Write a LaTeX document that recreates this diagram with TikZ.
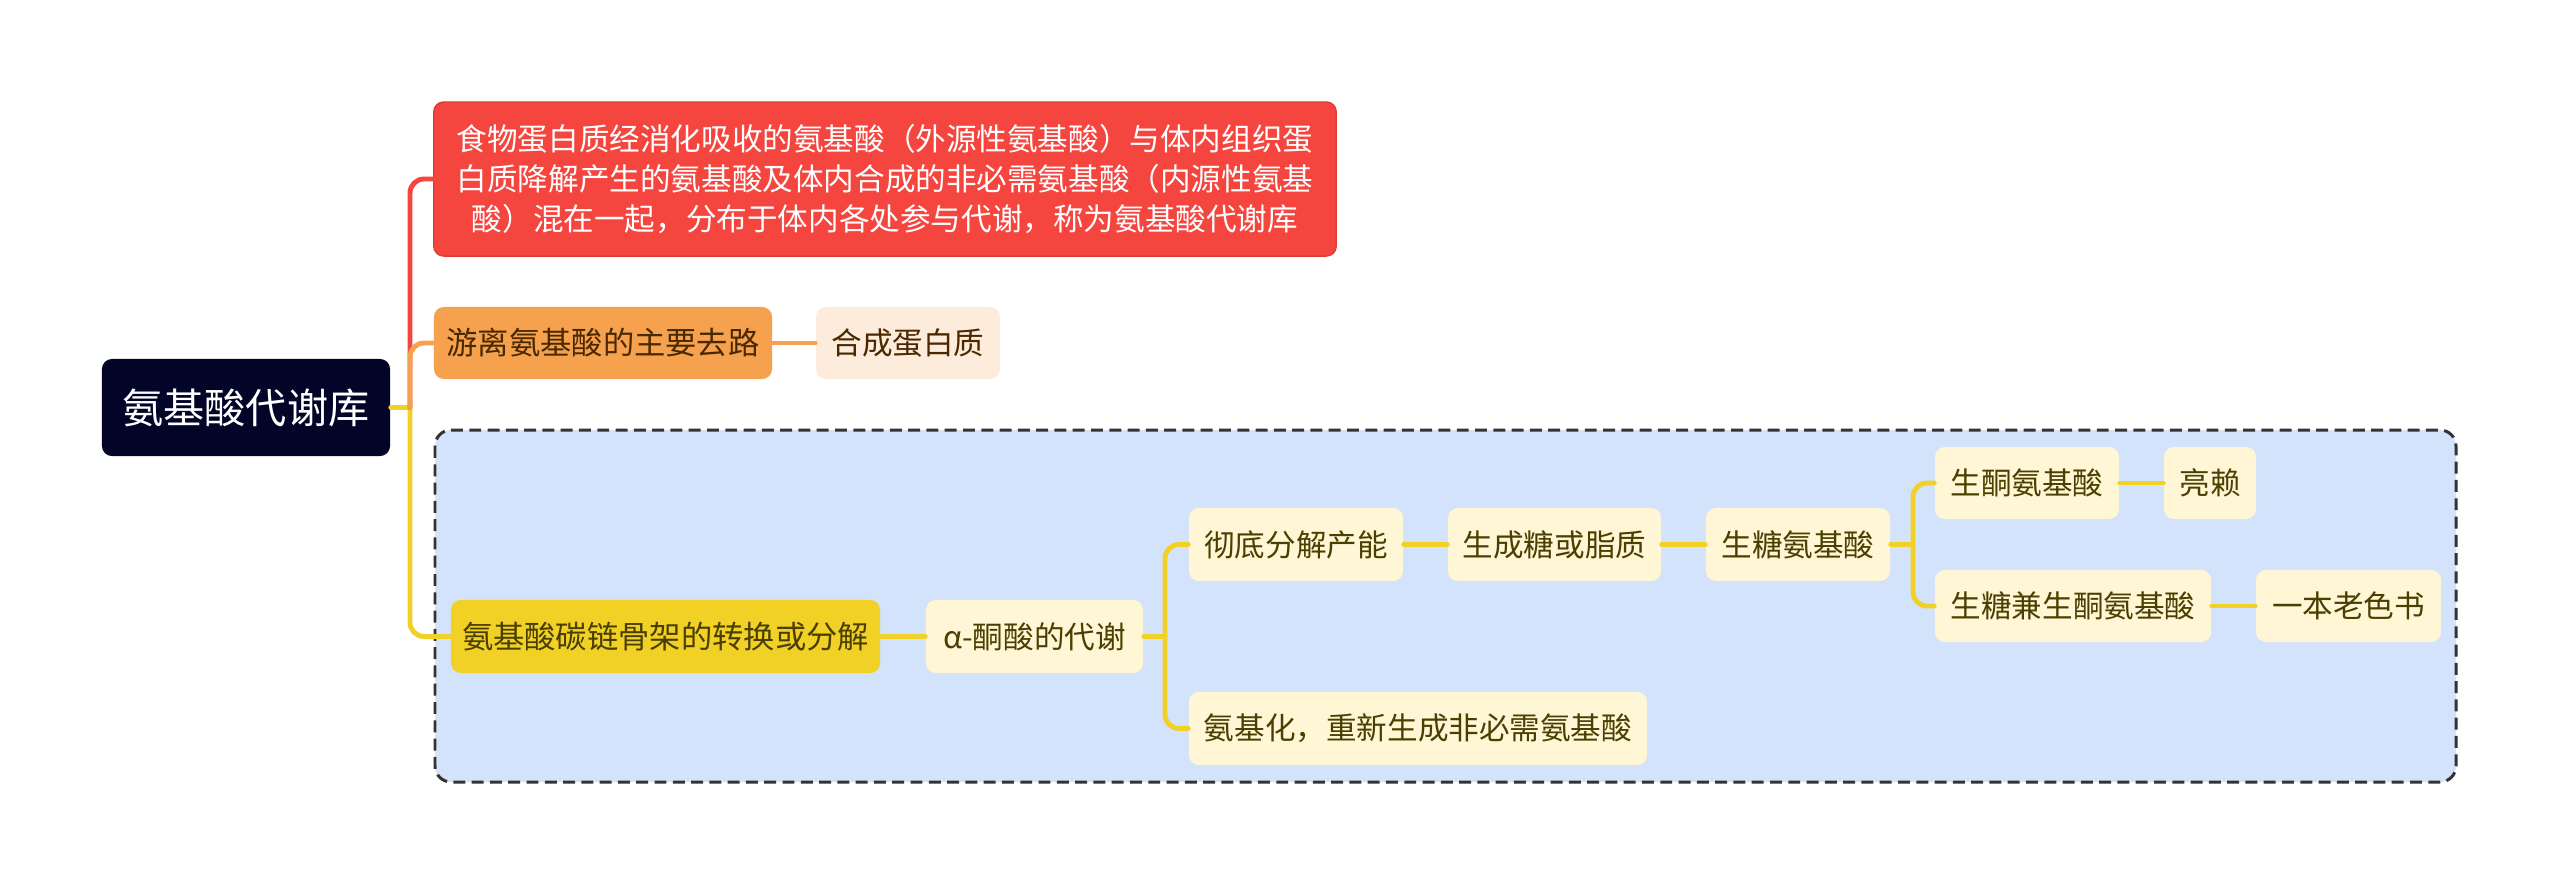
\documentclass[tikz,border=0pt]{standalone}
\usepackage{fontspec}
\setmainfont{Noto Sans CJK SC}
\definecolor{rootc}{HTML}{020428}
\definecolor{redc}{HTML}{F5453F}
\definecolor{redb}{HTML}{DE3B35}
\definecolor{orangec}{HTML}{F5A14E}
\definecolor{lorangec}{HTML}{FDEBDB}
\definecolor{yellowc}{HTML}{F1D126}
\definecolor{lyellowc}{HTML}{FEF6D5}
\definecolor{bluec}{HTML}{D4E3FC}
\definecolor{browntext}{HTML}{4A2800}
\definecolor{olivetext}{HTML}{4A3F00}
\begin{document}
\begin{tikzpicture}[x=0.01cm,y=-0.01cm,
  box/.style={rounded corners=0.1cm, inner sep=0pt, align=center},
  lv3/.style={box, fill=lyellowc, text=olivetext, font=\fontsize{8.7pt}{11pt}\selectfont, minimum height=0.73cm},
  link/.style={line width=1.4pt, line cap=round},
  elbow/.style={link, rounded corners=0.14cm}
]
\useasboundingbox (0,0) rectangle (2560,884);
% dashed background box
\draw[fill=bluec, draw=black!80, line width=0.85pt, dash pattern=on 3.4pt off 1.8pt, rounded corners=0.16cm] (435,430) rectangle (2456,782);

% nodes
\node[box, fill=rootc, text=white, font=\fontsize{11.7pt}{14pt}\selectfont, minimum width=2.88cm, minimum height=0.97cm] (root) at (246,407.5) {氨基酸代谢库};
\node[box, fill=redc, draw=redb, line width=0.4pt, text=white, font=\fontsize{8.7pt}{11.4pt}\selectfont, minimum width=9.02cm, minimum height=1.54cm] (red) at (885,179) {食物蛋白质经消化吸收的氨基酸（外源性氨基酸）与体内组织蛋\\白质降解产生的氨基酸及体内合成的非必需氨基酸（内源性氨基\\酸）混在一起，分布于体内各处参与代谢，称为氨基酸代谢库};
\node[box, fill=orangec, text=browntext, font=\fontsize{8.9pt}{12pt}\selectfont, minimum width=3.38cm, minimum height=0.72cm] (orange) at (603,343) {游离氨基酸的主要去路};
\node[box, fill=lorangec, text=browntext, font=\fontsize{8.7pt}{11pt}\selectfont, minimum width=1.84cm, minimum height=0.72cm] (synth) at (908,343) {合成蛋白质};
\node[box, fill=yellowc, text=olivetext, font=\fontsize{8.9pt}{12pt}\selectfont, minimum width=4.29cm, minimum height=0.73cm] (yel) at (665.5,636.5) {氨基酸碳链骨架的转换或分解};
\node[lv3, minimum width=2.17cm] (alpha) at (1034.5,636.5) {α-酮酸的代谢};
\node[lv3, minimum width=2.14cm] (chedi) at (1296,544.5) {彻底分解产能};
\node[lv3, minimum width=2.13cm] (scheng) at (1554.5,544.5) {生成糖或脂质};
\node[lv3, minimum width=4.58cm] (anji) at (1418,728.5) {氨基化，重新生成非必需氨基酸};
\node[lv3, minimum width=1.84cm] (stang) at (1798,544.5) {生糖氨基酸};
\node[lv3, minimum width=1.84cm, minimum height=0.72cm] (stong) at (2027,483) {生酮氨基酸};
\node[lv3, minimum width=0.92cm, minimum height=0.72cm] (liang) at (2210,483) {亮赖};
\node[lv3, minimum width=2.76cm, minimum height=0.72cm] (jian) at (2073,606) {生糖兼生酮氨基酸};
\node[lv3, minimum width=1.85cm, minimum height=0.72cm] (yiben) at (2348.5,606) {一本老色书};

% connectors from root
\coordinate (t0) at (410,407.5);
\draw[link, yellowc] (root.east) -- (t0);
\draw[elbow, yellowc] (t0) |- (yel.west);
\draw[elbow, redc] (t0) |- (red.west);
\draw[elbow, orangec] (t0) |- (orange.west);
\draw[link, orangec] (orange.east) -- (synth.west);
\draw[link, yellowc] (yel.east) -- (alpha.west);
% alpha children
\coordinate (t1) at (1165,636.5);
\draw[link, yellowc] (alpha.east) -- (t1);
\draw[elbow, yellowc] (t1) |- (chedi.west);
\draw[elbow, yellowc] (t1) |- (anji.west);
\draw[link, yellowc] (chedi.east) -- (scheng.west);
\draw[link, yellowc] (scheng.east) -- (stang.west);
% stang children
\coordinate (t2) at (1913,544.5);
\draw[link, yellowc] (stang.east) -- (t2);
\draw[elbow, yellowc] (t2) |- (stong.west);
\draw[elbow, yellowc] (t2) |- (jian.west);
\draw[link, yellowc] (stong.east) -- (liang.west);
\draw[link, yellowc] (jian.east) -- (yiben.west);
\end{tikzpicture}
\end{document}
